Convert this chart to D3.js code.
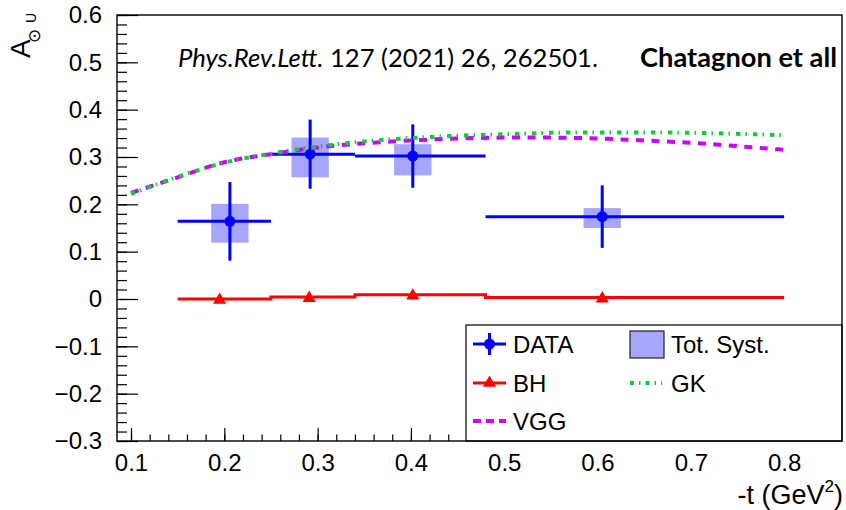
<!DOCTYPE html>
<html>
<head>
<meta charset="utf-8">
<script src="https://cdn.jsdelivr.net/npm/d3@7"></script>
<style>
  html, body { margin: 0; padding: 0; background: #fff; }
  svg { display: block; }
  text { font-family: "Liberation Sans", Arial, Helvetica, sans-serif; fill: #000; }
</style>
</head>
<body>
<svg id="chart" width="846" height="510"></svg>
<script>
// ---- data -------------------------------------------------------------
// Beam-spin asymmetry measurement in bins of -t
const dataT      = [0.206, 0.292, 0.402, 0.605];
const dataA      = [0.164, 0.306, 0.302, 0.174];
const binLow     = [0.15, 0.25, 0.34, 0.48];
const binHigh    = [0.25, 0.34, 0.48, 0.80];
const statErr    = [0.083, 0.073, 0.067, 0.066];
const systUp     = [0.037, 0.035, 0.025, 0.018];
const systDown   = [0.045, 0.049, 0.041, 0.024];
const systHalfT  = 0.02;

// Bethe-Heitler expectation per bin
const bhValues   = [0.000, 0.004, 0.009, 0.003];
const bhMarkerT  = [0.195, 0.291, 0.402, 0.605];

// Model curves
const modelT     = [0.10, 0.15, 0.20, 0.25, 0.30, 0.35, 0.40, 0.45, 0.50, 0.55, 0.60, 0.65, 0.70, 0.75, 0.80];
const gkValues   = [0.222, 0.258, 0.288, 0.307, 0.322, 0.333, 0.340, 0.345, 0.348, 0.351, 0.352, 0.352, 0.351, 0.349, 0.346];
const vggValues  = [0.224, 0.257, 0.289, 0.306, 0.320, 0.329, 0.335, 0.339, 0.341, 0.341, 0.339, 0.335, 0.330, 0.323, 0.315];

// Axis ticks
const xTicks     = [0.1, 0.2, 0.3, 0.4, 0.5, 0.6, 0.7, 0.8];
const yTicks     = [-0.3, -0.2, -0.1, 0, 0.1, 0.2, 0.3, 0.4, 0.5, 0.6];

// ---- layout -----------------------------------------------------------
const svg = d3.select("#chart");
const frame = { left: 117, right: 842, top: 15, bottom: 441 };

const x = d3.scaleLinear().domain([0.085, 0.862]).range([frame.left, frame.right]);
const y = d3.scaleLinear().domain([-0.3, 0.6]).range([frame.bottom, frame.top]);

const BLUE = "#0000ff", RED = "#ff0000", SYST = "#a6a6fa", GREEN = "#0fcc3c", MAGENTA = "#cc00ff";

const fmt = d => Math.abs(d) < 1e-9 ? "0" : d3.format(".1f")(d);

// minor ticks every 0.02
const xMinor = d3.range(0.1, 0.861, 0.02).map(v => +v.toFixed(2));
const yMinor = d3.range(-0.3, 0.601, 0.02).map(v => +v.toFixed(2));

const plot = svg.append("g");

// Systematic uncertainty boxes
plot.selectAll("rect.syst").data(dataT).join("rect")
  .attr("class", "syst")
  .attr("x", d => x(d - systHalfT))
  .attr("width", d => x(d + systHalfT) - x(d - systHalfT))
  .attr("y", (d, i) => y(dataA[i] + systUp[i]))
  .attr("height", (d, i) => y(dataA[i] - systDown[i]) - y(dataA[i] + systUp[i]))
  .attr("fill", SYST);

// BH step line
const bhPts = [];
binLow.forEach((lo, i) => { bhPts.push([lo, bhValues[i]]); bhPts.push([binHigh[i], bhValues[i]]); });
plot.append("path")
  .attr("d", d3.line().x(d => x(d[0])).y(d => y(d[1]))(bhPts))
  .attr("fill", "none").attr("stroke", RED).attr("stroke-width", 3);

const tri = d3.symbol().type(d3.symbolTriangle).size(75);
plot.selectAll("path.bh").data(bhMarkerT).join("path")
  .attr("class", "bh")
  .attr("d", tri)
  .attr("transform", (d, i) => `translate(${x(d)},${y(bhValues[i]) + 1})`)
  .attr("fill", RED);

// DATA error bars and markers
const dg = plot.selectAll("g.pt").data(dataT).join("g").attr("class", "pt");
dg.append("line")
  .attr("x1", (d, i) => x(binLow[i])).attr("x2", (d, i) => x(binHigh[i]))
  .attr("y1", (d, i) => y(dataA[i])).attr("y2", (d, i) => y(dataA[i]))
  .attr("stroke", BLUE).attr("stroke-width", 3);
dg.append("line")
  .attr("x1", d => x(d)).attr("x2", d => x(d))
  .attr("y1", (d, i) => y(dataA[i] + statErr[i])).attr("y2", (d, i) => y(dataA[i] - statErr[i]))
  .attr("stroke", BLUE).attr("stroke-width", 3);
dg.append("circle")
  .attr("cx", d => x(d)).attr("cy", (d, i) => y(dataA[i])).attr("r", 5.5)
  .attr("fill", BLUE);

// Model curves
const curve = d3.line().x((d, i) => x(modelT[i])).y(d => y(d)).curve(d3.curveMonotoneX);
plot.append("path").attr("d", curve(vggValues))
  .attr("fill", "none").attr("stroke", MAGENTA).attr("stroke-width", 4)
  .attr("stroke-dasharray", "8,7.5");
plot.append("path").attr("d", curve(gkValues))
  .attr("fill", "none").attr("stroke", GREEN).attr("stroke-width", 4)
  .attr("stroke-dasharray", "4.5,5,1.5,6");

// ---- axes -------------------------------------------------------------
svg.append("g").attr("transform", `translate(${frame.left},0)`)
  .call(d3.axisLeft(y).tickValues(yTicks).tickSize(-21).tickPadding(15).tickFormat(fmt));
svg.append("g").attr("transform", `translate(${frame.left},0)`)
  .call(d3.axisLeft(y).tickValues(yMinor).tickSize(-10).tickFormat(""));

svg.append("g").attr("transform", `translate(0,${frame.bottom})`)
  .call(d3.axisBottom(x).tickValues(xTicks).tickSize(-13).tickPadding(13).tickFormat(fmt));
svg.append("g").attr("transform", `translate(0,${frame.bottom})`)
  .call(d3.axisBottom(x).tickValues(xMinor).tickSize(-6.5).tickFormat(""));

svg.selectAll(".domain").remove();
svg.selectAll(".tick line").attr("stroke", "#000").attr("stroke-width", 1.2);
svg.selectAll(".tick text").attr("font-size", 24).attr("font-family", "Liberation Sans, Arial, sans-serif").attr("fill", "#000");

// ---- legend -----------------------------------------------------------
const lg = svg.append("g");
lg.append("rect").attr("x", 466).attr("y", 325).attr("width", frame.right - 466).attr("height", frame.bottom - 325)
  .attr("fill", "#fff").attr("stroke", "#000").attr("stroke-width", 1.2);

const rowY = [344, 383, 421];
// DATA
lg.append("line").attr("x1", 473).attr("x2", 506).attr("y1", rowY[0]).attr("y2", rowY[0]).attr("stroke", BLUE).attr("stroke-width", 3);
lg.append("line").attr("x1", 489.5).attr("x2", 489.5).attr("y1", rowY[0] - 11).attr("y2", rowY[0] + 11).attr("stroke", BLUE).attr("stroke-width", 3);
lg.append("circle").attr("cx", 489.5).attr("cy", rowY[0]).attr("r", 5.5).attr("fill", BLUE);
// BH
lg.append("line").attr("x1", 473).attr("x2", 506).attr("y1", rowY[1]).attr("y2", rowY[1]).attr("stroke", RED).attr("stroke-width", 3);
lg.append("path").attr("d", tri).attr("transform", `translate(489.5,${rowY[1]})`).attr("fill", RED);
// VGG
lg.append("line").attr("x1", 473).attr("x2", 506).attr("y1", rowY[2]).attr("y2", rowY[2]).attr("stroke", MAGENTA).attr("stroke-width", 4).attr("stroke-dasharray", "8,5");
// Tot. Syst.
lg.append("rect").attr("x", 630).attr("y", 331).attr("width", 34).attr("height", 27).attr("fill", SYST).attr("stroke", "#222").attr("stroke-width", 1.2);
// GK
lg.append("line").attr("x1", 630).attr("x2", 662).attr("y1", rowY[1]).attr("y2", rowY[1]).attr("stroke", GREEN).attr("stroke-width", 4).attr("stroke-dasharray", "4,5,1.5,5");

const legendText = [["DATA", 513, rowY[0]], ["BH", 513, rowY[1]], ["VGG", 513, rowY[2]], ["Tot. Syst.", 671, rowY[0]], ["GK", 671, rowY[1]]];
lg.selectAll("text").data(legendText).join("text")
  .attr("x", d => d[1]).attr("y", d => d[2]).attr("dy", "0.36em")
  .attr("font-size", 24).text(d => d[0]);

// frame on top
svg.append("rect").attr("x", frame.left).attr("y", frame.top)
  .attr("width", frame.right - frame.left).attr("height", frame.bottom - frame.top)
  .attr("fill", "none").attr("stroke", "#000").attr("stroke-width", 1.4);

// ---- axis titles ------------------------------------------------------
const xt = svg.append("text").attr("x", 843).attr("y", 504).attr("text-anchor", "end").attr("font-size", 27);
xt.append("tspan").text("-t (GeV");
xt.append("tspan").attr("font-size", 17).attr("dy", -12).text("2");
xt.append("tspan").attr("dy", 12).text(")");

const yt = svg.append("g").attr("transform", "translate(30,58) rotate(-90)");
yt.append("text").attr("x", 0).attr("y", 0).attr("font-size", 28).text("A");
yt.append("text").attr("x", 15).attr("y", 10).attr("font-size", 17).attr("font-family", "DejaVu Sans").text("\u2299");
yt.append("text").attr("x", 35).attr("y", 6).attr("font-size", 14).text("U");

// ---- publication reference --------------------------------------------
const cite = svg.append("text").attr("x", 178).attr("y", 67).attr("font-size", 25)
  .attr("textLength", 420).attr("lengthAdjust", "spacingAndGlyphs").style("font-family", "Lato");
cite.append("tspan").attr("font-style", "italic").text("Phys.Rev.Lett.");
cite.append("tspan").text(" 127 (2021) 26,  262501.");
svg.append("text").attr("x", 640).attr("y", 67).attr("font-size", 26).attr("font-weight", "bold")
  .attr("textLength", 197).attr("lengthAdjust", "spacingAndGlyphs").style("font-family", "Lato").text("Chatagnon et all");
</script>
</body>
</html>
